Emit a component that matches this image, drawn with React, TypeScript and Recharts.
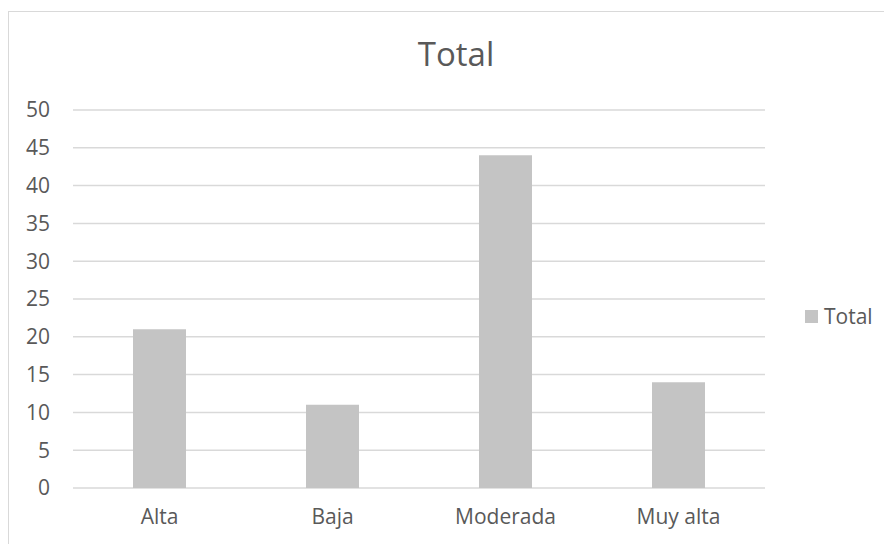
import React from "react";
import { BarChart, Bar, XAxis, YAxis, CartesianGrid, Legend } from "recharts";

const categories = ["Alta", "Baja", "Moderada", "Muy alta"];
const totals = [21, 11, 44, 14];
const yTicks = [0, 5, 10, 15, 20, 25, 30, 35, 40, 45, 50];

const data = categories.map((c, i) => ({ name: c, Total: totals[i] }));

const FONT = "'Open Sans', 'Noto Sans', sans-serif";
const TEXT = "#595959";
const GRID = "#d9d9d9";
const BAR = "#c4c4c4";
const FS = 21;

const LegendContent = () => (
  <div style={{ display: "flex", alignItems: "center", fontFamily: FONT, fontSize: FS, color: TEXT, lineHeight: "24px" }}>
    <span style={{ display: "inline-block", width: 13, height: 13, background: BAR, marginRight: 6 }} />
    <span>Total</span>
  </div>
);

export default function App() {
  return (
    <div style={{ position: "relative", width: 884, height: 536, overflow: "hidden", background: "#fff" }}>
      <div
        style={{
          position: "absolute",
          left: 0,
          top: 3,
          width: 1000,
          height: 1000,
          border: `1px solid ${GRID}`,
          boxSizing: "border-box",
        }}
      />
      <div
        style={{
          position: "absolute",
          left: 0,
          width: 896,
          top: 23,
          textAlign: "center",
          fontFamily: FONT,
          fontSize: 33,
          color: TEXT,
          lineHeight: "46px",
        }}
      >
        Total
      </div>
      <BarChart
        width={884}
        height={536}
        data={data}
        margin={{ top: 102, right: 127, bottom: 26, left: 0 }}
        barSize={53}
        style={{ position: "absolute", left: 0, top: 0 }}
      >
        <CartesianGrid vertical={false} stroke={GRID} strokeWidth={1.5} />
        <XAxis
          dataKey="name"
          axisLine={false}
          tickLine={false}
          tickSize={0}
          tickMargin={21}
          height={30}
          tick={{ fill: TEXT, fontSize: FS, fontFamily: FONT }}
          interval={0}
        />
        <YAxis
          domain={[0, 50]}
          ticks={yTicks}
          axisLine={false}
          tickLine={false}
          tickSize={0}
          tickMargin={23}
          width={65}
          tick={{ fill: TEXT, fontSize: FS, fontFamily: FONT }}
          interval={0}
        />
        <Legend
          verticalAlign="middle"
          align="center"
          layout="horizontal"
          content={<LegendContent />}
          wrapperStyle={{ position: "absolute", left: 797, top: 296, width: 90 }}
        />
        <Bar dataKey="Total" fill={BAR} isAnimationActive={false} />
      </BarChart>
    </div>
  );
}
